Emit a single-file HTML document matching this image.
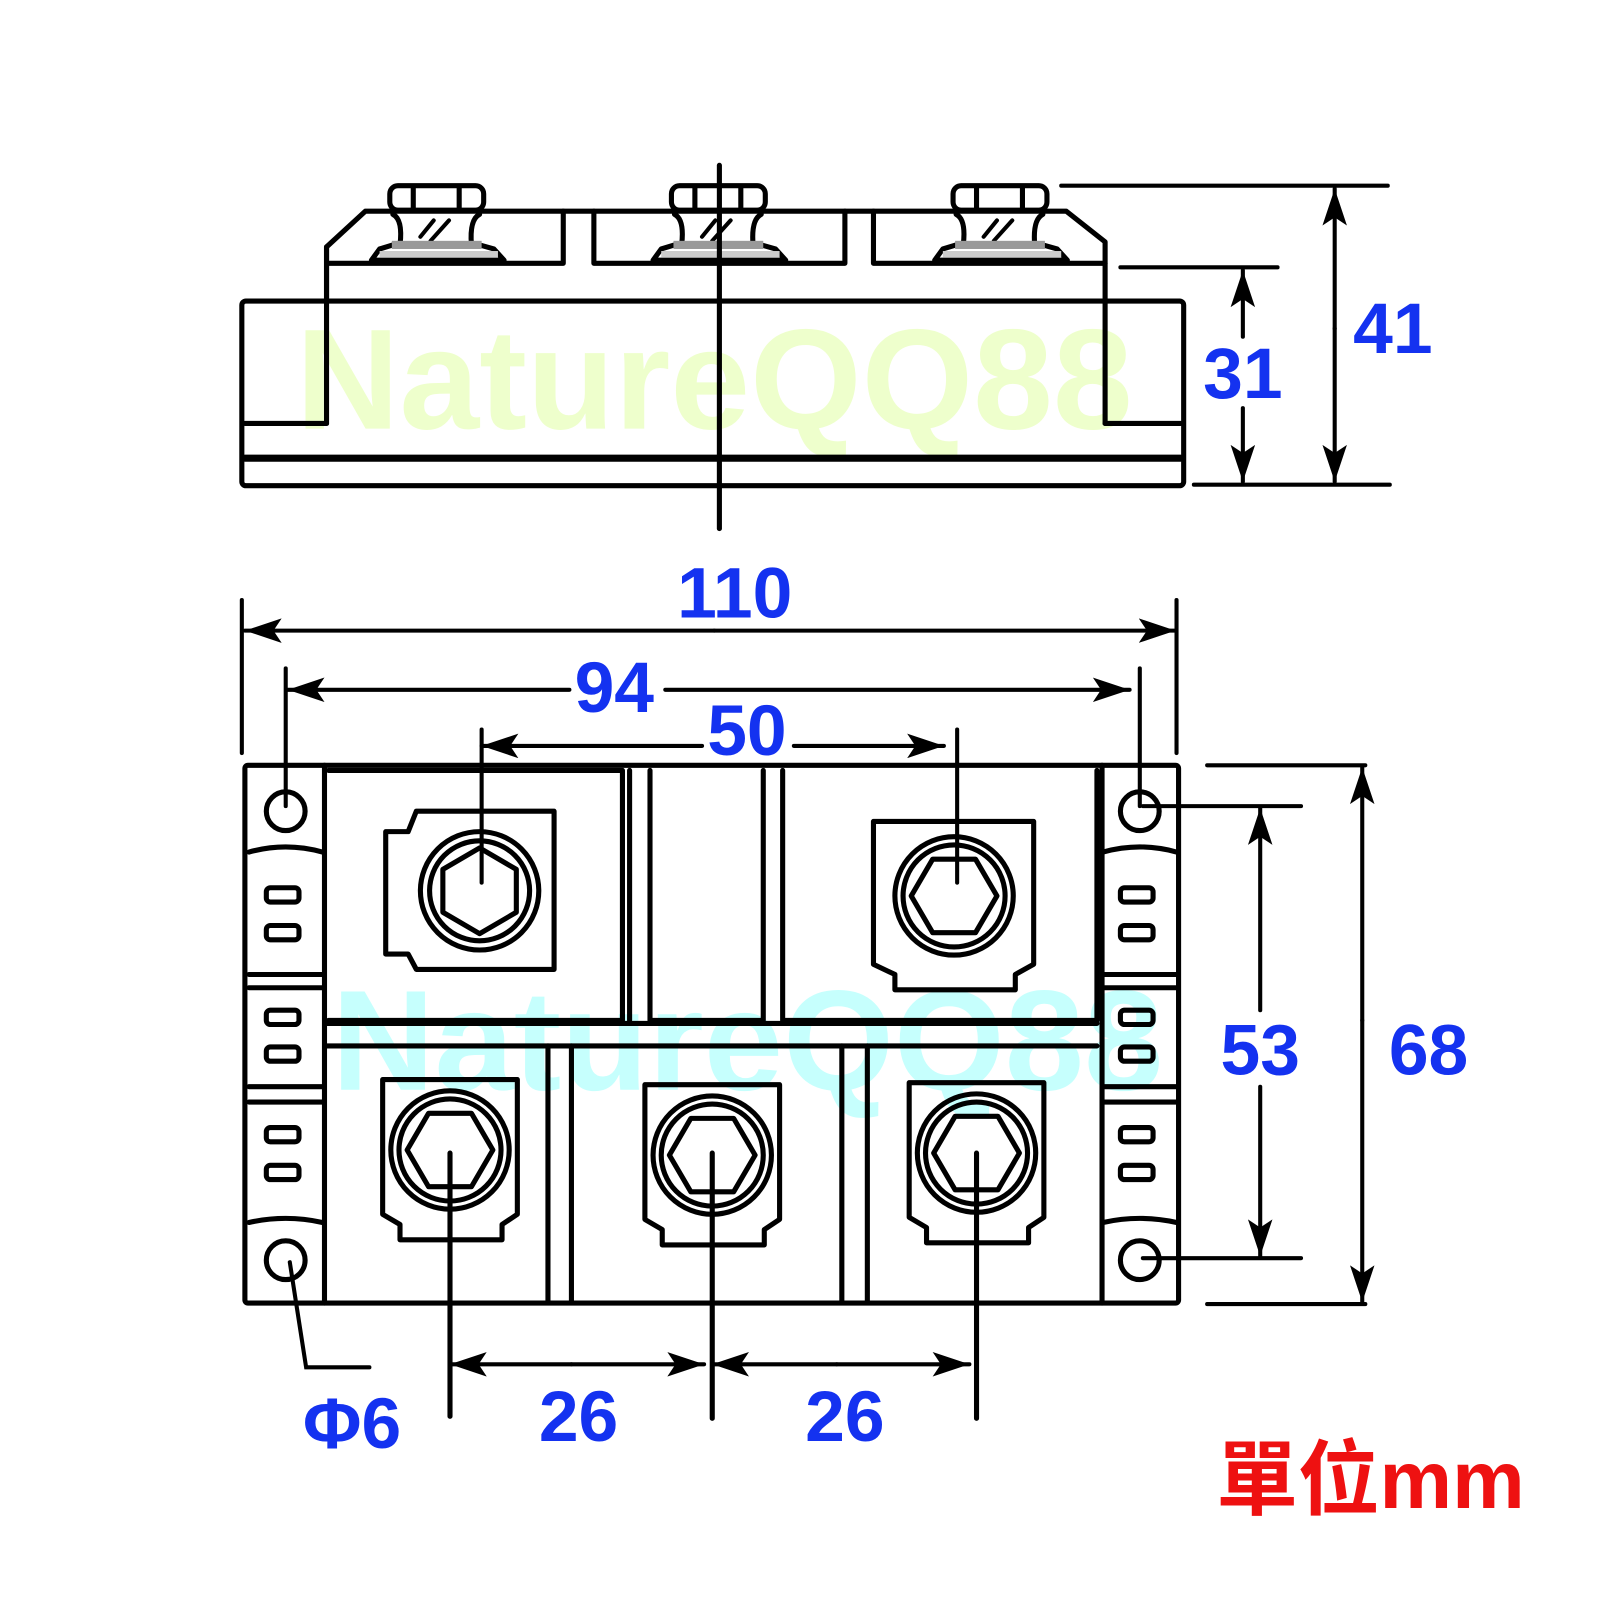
<!DOCTYPE html>
<html><head><meta charset="utf-8"><style>
html,body{margin:0;padding:0;background:#fff;}
svg{display:block;}
.l{fill:none;stroke:#000;stroke-width:5;stroke-linejoin:round;stroke-linecap:round;}
.d{fill:none;stroke:#000;stroke-width:4;stroke-linecap:round;}
.t{font-family:"Liberation Sans",sans-serif;font-weight:bold;fill:#1432f0;font-size:70px;text-anchor:middle;}
.w{font-family:"Liberation Sans",sans-serif;font-weight:bold;font-size:140px;}
</style></head><body>
<svg width="1600" height="1600" viewBox="0 0 1568 1568" xmlns="http://www.w3.org/2000/svg">
<defs>
<marker id="a" viewBox="0 0 36 24" refX="36" refY="12" markerWidth="36" markerHeight="24" markerUnits="userSpaceOnUse" orient="auto-start-reverse">
<path d="M0,0 L36,12 L0,24 L8,12 Z" fill="#000"/>
</marker>
</defs>
<rect width="1568" height="1568" fill="#fff"/>
<text class="w" x="290" y="420" fill="#eeffcc" textLength="820" lengthAdjust="spacingAndGlyphs">NatureQQ88</text>
<text class="w" x="325" y="1068" fill="#c6fffd" textLength="815" lengthAdjust="spacingAndGlyphs">NatureQQ88</text>

<!-- ===== TOP VIEW ===== -->
<rect class="l" x="237" y="295" width="923" height="181" rx="4"/>
<path class="l" d="M240,415 H320 M1083,415 H1157"/>
<path class="l" d="M240,449 H1157" style="stroke-width:7"/>
<path class="l" d="M320,295 V242 L358,207 H1045 L1083,237 V415"/>
<path class="l" d="M320,242 V415"/>
<path class="l" d="M320,258 H552 V207 M582,207 V258 H828 V207 M856,207 V258 H1083"/>
<g id="term">
<rect class="l" x="382" y="182" width="92" height="24" rx="8" fill="#fff"/>
<path class="l" d="M405,184 V204 M450,184 V204"/>
<path class="l" d="M385,210 Q395,215 392,240 H462 Q460,215 470,210" fill="#fff"/>
<path class="l" d="M412,232 L425,216 M422,236 L440,216" style="stroke-width:4"/>
<path class="l" d="M385,240 L372,244 L364,255 H494 L484,244 L470,240" fill="#fff"/>
<rect x="384" y="236" width="88" height="8" fill="#999"/>
<rect x="372" y="246" width="116" height="6" fill="#ccc"/>
</g>
<use href="#term" x="276"/>
<use href="#term" x="552"/>
<path class="l" d="M705,162 V518"/>
<path class="d" d="M1040,182 H1360 M1098,262 H1252 M1170,475 H1362"/>
<path class="d" d="M1308,322 V185" marker-end="url(#a)"/>
<path class="d" d="M1308,322 V472" marker-end="url(#a)"/>
<path class="d" d="M1218,330 V265" marker-end="url(#a)"/>
<path class="d" d="M1218,400 V472" marker-end="url(#a)"/>
<text class="t" x="1365" y="346">41</text>
<text class="t" x="1218" y="390">31</text>

<!-- ===== BOTTOM VIEW ===== -->
<path class="d" d="M237,588 V738 M1153,588 V738"/>
<path class="d" d="M700,618 H240" marker-end="url(#a)"/>
<path class="d" d="M700,618 H1152" marker-end="url(#a)"/>
<text class="t" x="720" y="605">110</text>
<path class="d" d="M280,655 V790 M1117,655 V790"/>
<path class="d" d="M558,676 H282" marker-end="url(#a)"/>
<path class="d" d="M652,676 H1107" marker-end="url(#a)"/>
<text class="t" x="602" y="698">94</text>
<path class="d" d="M688,731 H472" marker-end="url(#a)"/>
<path class="d" d="M778,731 H925" marker-end="url(#a)"/>
<text class="t" x="732" y="740">50</text>
<path class="d" d="M472,715 V865 M938,715 V865"/>

<rect class="l" x="240" y="750" width="915" height="527" rx="3"/>
<path class="l" d="M318,750 V1277 M1080,750 V1277"/>
<g id="side">
<circle class="l" cx="280" cy="795" r="19"/>
<path class="l" d="M244,835 Q280,825 316,835"/>
<path class="l" d="M244,955 H316 M244,968 H316 M244,1065 H316 M244,1080 H316"/>
<path class="l" d="M244,1198 Q280,1190 316,1198"/>
<circle class="l" cx="280" cy="1235" r="19"/>
<rect class="l" x="261" y="870" width="32" height="14" rx="4"/>
<rect class="l" x="261" y="907" width="32" height="14" rx="4"/>
<rect class="l" x="261" y="990" width="32" height="14" rx="4"/>
<rect class="l" x="261" y="1026" width="32" height="14" rx="4"/>
<rect class="l" x="261" y="1105" width="32" height="14" rx="4"/>
<rect class="l" x="261" y="1142" width="32" height="14" rx="4"/>
</g>
<use href="#side" x="837"/>
<path class="l" d="M322,755 H610 V1000 H322"/>
<path class="l" d="M617,755 V1000 M637,755 V1000 H748 V755 M767,755 V1000 H1075 V755"/>
<path class="l" d="M320,1003 H1075 M320,1025 H1075"/>
<path class="l" d="M537,1025 V1275 M560,1025 V1275 M825,1025 V1275 M850,1025 V1275"/>
<path class="l" d="M408,795 H543 V950 H408 L400,935 H378 V815 H400 Z"/>
<circle class="l" cx="470" cy="873" r="58"/>
<circle class="l" cx="470" cy="873" r="49"/>
<polygon class="l" points="470,831 506,852 506,894 470,915 434,894 434,852"/>
<path class="l" d="M856,805 H1013 V945 L995,955 V970 H877 V955 L856,945 Z"/>
<circle class="l" cx="935" cy="878" r="58"/>
<circle class="l" cx="935" cy="878" r="50"/>
<polygon class="l" points="914,842 956,842 977,878 956,914 914,914 893,878"/>
<g id="bt">
<path class="l" d="M375,1058 H507 V1190 L492,1200 V1215 H392 V1200 L375,1190 Z"/>
<circle class="l" cx="441" cy="1127" r="58"/>
<circle class="l" cx="441" cy="1127" r="50"/>
<polygon class="l" points="420,1091 462,1091 483,1127 462,1163 420,1163 399,1127"/>
</g>
<use href="#bt" x="257" y="5"/>
<use href="#bt" x="516" y="3"/>
<path class="l" d="M441,1130 V1388 M698,1130 V1390 M957,1130 V1390"/>
<path class="d" d="M560,1337 H441" marker-end="url(#a)"/>
<path class="d" d="M560,1337 H690" marker-end="url(#a)"/>
<path class="d" d="M820,1337 H698" marker-end="url(#a)"/>
<path class="d" d="M820,1337 H950" marker-end="url(#a)"/>
<text class="t" x="567" y="1412">26</text>
<text class="t" x="828" y="1412">26</text>
<path class="d" d="M284,1237 L300,1340 H362"/>
<text class="t" x="345" y="1419">Φ6</text>
<path class="d" d="M1183,750 H1338 M1120,790 H1275 M1120,1233 H1275 M1183,1278 H1338"/>
<path class="d" d="M1235,990 V792" marker-end="url(#a)"/>
<path class="d" d="M1235,1065 V1231" marker-end="url(#a)"/>
<path class="d" d="M1335,1000 V752" marker-end="url(#a)"/>
<path class="d" d="M1335,1000 V1276" marker-end="url(#a)"/>
<text class="t" x="1235" y="1053">53</text>
<text class="t" x="1400" y="1053">68</text>
<text x="1192" y="1478" style="font-family:'Liberation Sans','Noto Sans CJK TC',sans-serif;font-weight:bold;font-size:80px;fill:#ee1111">單位mm</text>
</svg>
</body></html>
